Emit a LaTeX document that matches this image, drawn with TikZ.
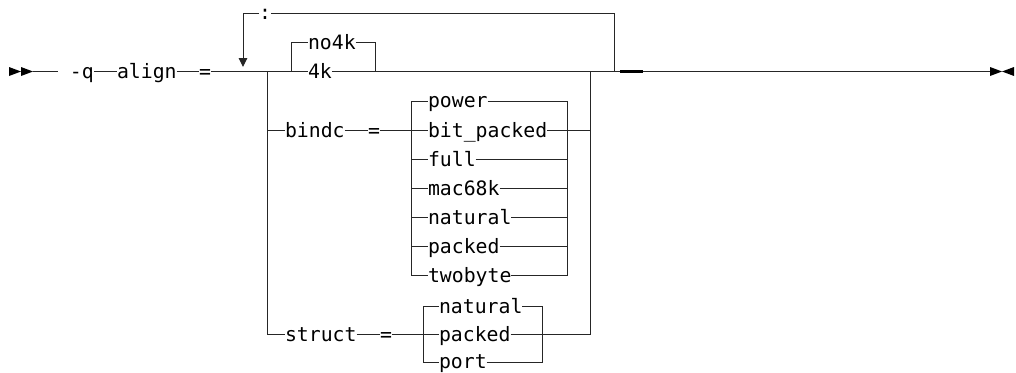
\documentclass[tikz,border=0pt]{standalone}
\usepackage{fontspec}
\usepackage{tikz}
\usetikzlibrary{arrows.meta}
\setmonofont{DejaVu Sans Mono}
\newcommand\synfont{\ttfamily\fontsize{19.8pt}{22pt}\selectfont}

\begin{document}
\begin{tikzpicture}[x=1pt, y=-1pt, line width=1pt, font=\synfont]
            \tikzstyle{every node}+=[inner sep=0pt, outer sep=0pt, anchor=west, text height=13pt, text depth=0pt]
            \tikzstyle{rail}=[black!85]
            \tikzstyle{endmark}=[fill=black]
            \useasboundingbox (0,0) rectangle (1016,372);
            % start and end marks
            \fill [endmark] (9,67) -- (21,71.5) -- (9,76) -- cycle;
            \fill [endmark] (21,67) -- (33,71.5) -- (21,76) -- cycle;
            \coordinate (start) at (33,71.5);
            \coordinate (endm) at (990,71.5);
            \fill [endmark] (990,67) -- (1002,71.5) -- (990,76) -- cycle;
            \fill [endmark] (1014,67) -- (1002,71.5) -- (1014,76) -- cycle;
            % main line
            \node (q) at (58,71.5) {~-q};
            \node (align) at (117,71.5) {align};
            \node (eq) at (199,71.5) {=};
            \coordinate (loopin) at (243,71.5);
            \coordinate (jl) at (267,71.5);
            \coordinate (k4l) at (291,71.5);
            \node (k4) at (308,71.5) {4k};
            \coordinate (k4r) at (375,71.5);
            \coordinate (jr) at (590,71.5);
            \coordinate (loopout) at (614,71.5);
            \coordinate (thickl) at (620,71.5);
            \coordinate (thickr) at (643,71.5);
            \draw [rail] (start) -- (q.west);
            \draw [rail] (q.east) -- (align.west);
            \draw [rail] (align.east) -- (eq.west);
            \draw [rail] (eq.east) -- (k4.west);
            \draw [rail] (k4.east) -- (endm);
            \draw [black, line width=2.2pt] (thickl) -- (thickr);
            % repeat loop
            \coordinate (loopl) at (243,13);
            \coordinate (loopr) at (614,13);
            \node (colon) at (259,13) {:};
            \draw [rail] (loopout) -- (loopr) -- (colon.east);
            \draw [rail, -{Triangle[length=9pt,width=8.5pt]}, shorten >=4.5pt] (colon.west) -- (loopl) -- (loopin);
            % no4k
            \coordinate (n4l) at (291,42.5);
            \coordinate (n4r) at (375,42.5);
            \node (no4k) at (308,42.5) {no4k};
            \draw [rail] (k4l) -- (n4l) -- (no4k.west);
            \draw [rail] (no4k.east) -- (n4r) -- (k4r);
            % bindc
            \node (bindc) at (285,130.5) {bindc};
            \node (beq) at (368,130.5) {=};
            \coordinate (bl) at (411,130.5);
            \coordinate (br) at (567,130.5);
            \draw [rail] (bindc.west -| jl) -- (bindc.west);
            \draw [rail] (bindc.east) -- (beq.west);
            \draw [rail] (beq.east) -- (bl);
            \foreach \name/\txt/\yy in {bpower/power/101, bbit/bit\_packed/130.5, bfull/full/159.5,
                bmac/mac68k/188.5, bnatural/natural/217.5, bpacked/packed/246.5, btwobyte/twobyte/275.5}
            {
                \node (\name) at (428,\yy) {\txt};
                \draw [rail] (\name.west -| bl) -- (\name.west);
                \draw [rail] (\name.east) -- (\name.east -| br);
            }
            \draw [rail] (bpower.west -| bl) -- (btwobyte.west -| bl);
            \draw [rail] (bpower.west -| br) -- (btwobyte.west -| br);
            \draw [rail] (br) -- (bbit.west -| jr);
            % struct
            \node (struct) at (285,334.5) {struct};
            \node (seq) at (380,334.5) {=};
            \coordinate (sl) at (423,334.5);
            \coordinate (sr) at (542.5,334.5);
            \draw [rail] (jl) -- (struct.west -| jl) -- (struct.west);
            \draw [rail] (struct.east) -- (seq.west);
            \draw [rail] (seq.east) -- (sl);
            \foreach \name/\txt/\yy in {snatural/natural/306.5, spacked/packed/334.5, sport/port/362}
            {
                \node (\name) at (439,\yy) {\txt};
                \draw [rail] (\name.west -| sl) -- (\name.west);
                \draw [rail] (\name.east) -- (\name.east -| sr);
            }
            \draw [rail] (snatural.west -| sl) -- (sport.west -| sl);
            \draw [rail] (snatural.west -| sr) -- (sport.west -| sr);
            \draw [rail] (sr) -- (struct.west -| jr) -- (jr);
\end{tikzpicture}
\end{document}
